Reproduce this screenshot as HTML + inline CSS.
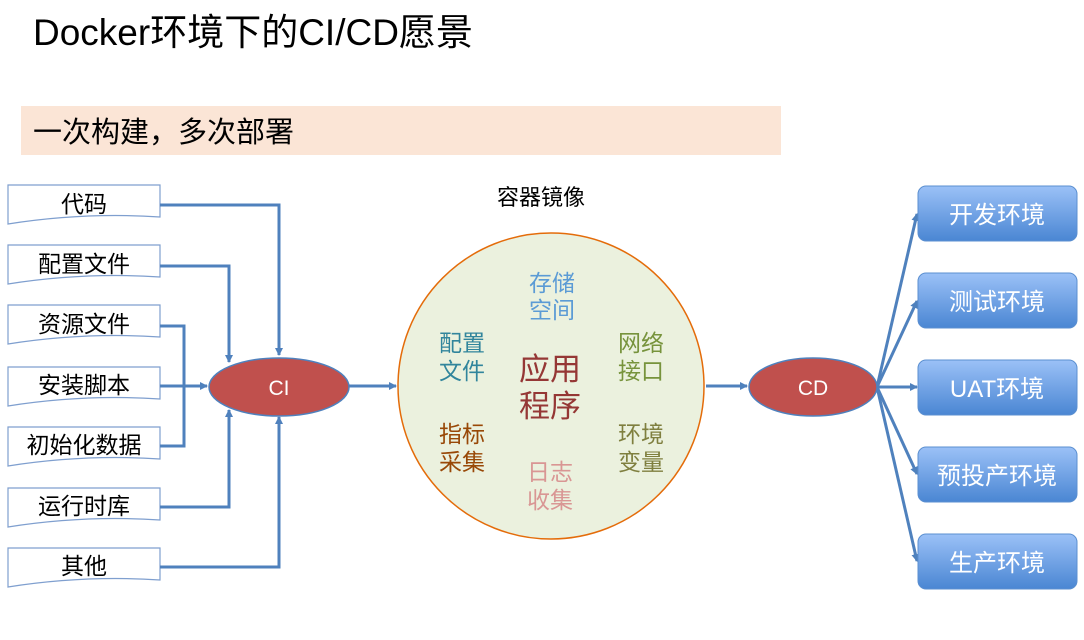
<!DOCTYPE html>
<html><head><meta charset="utf-8"><style>
body{margin:0;background:#fff;}
svg{display:block;font-family:"Liberation Sans","Noto Sans CJK SC",sans-serif;}
</style></head><body>
<svg width="1084" height="640" viewBox="0 0 1084 640" xmlns="http://www.w3.org/2000/svg">
<defs>
<marker id="ar" markerWidth="8" markerHeight="8" refX="7" refY="4" orient="auto" markerUnits="userSpaceOnUse">
<path d="M0,0 L8,4 L0,8 Z" fill="#4f81bd"/></marker>
<linearGradient id="bg" x1="0" y1="0" x2="0" y2="1"><stop offset="0" stop-color="#9bc1f7"/><stop offset="1" stop-color="#4a86d3"/></linearGradient>
</defs>
<text x="33" y="45" font-size="37" fill="#000">Docker环境下的CI/CD愿景</text>
<rect x="21" y="106" width="760" height="49" fill="#fbe5d6"/>
<text x="33" y="142" font-size="29" fill="#000">一次构建，多次部署</text>

<g fill="#fff" stroke="#7f9fcf" stroke-width="1.2">
<path d="M8,185 H160 V217 Q84,212 8,224 Z"/>
<path d="M8,245 H160 V277 Q84,272 8,284 Z"/>
<path d="M8,305 H160 V337 Q84,332 8,344 Z"/>
<path d="M8,367 H160 V399 Q84,394 8,406 Z"/>
<path d="M8,427 H160 V459 Q84,454 8,466 Z"/>
<path d="M8,488 H160 V520 Q84,515 8,527 Z"/>
<path d="M8,548 H160 V580 Q84,575 8,587 Z"/>
</g>
<g font-size="23" fill="#000" text-anchor="middle">
<text x="84" y="212">代码</text>
<text x="84" y="272">配置文件</text>
<text x="84" y="332">资源文件</text>
<text x="84" y="393">安装脚本</text>
<text x="84" y="453">初始化数据</text>
<text x="84" y="514">运行时库</text>
<text x="84" y="574">其他</text>
</g>
<g fill="none" stroke="#4f81bd" stroke-width="3">
<path d="M160,205 H279 V355" marker-end="url(#ar)"/>
<path d="M160,266 H229 V362" marker-end="url(#ar)"/>
<path d="M160,326 H184 V446 H160"/>
<path d="M160,386 H207" marker-end="url(#ar)"/>
<path d="M160,507 H229 V410" marker-end="url(#ar)"/>
<path d="M160,567 H279 V417" marker-end="url(#ar)"/>
<path d="M349,386 H396" marker-end="url(#ar)"/>
<path d="M706,386 H747" marker-end="url(#ar)"/>
<path d="M877,387 L917,214" marker-end="url(#ar)"/>
<path d="M877,387 L917,301" marker-end="url(#ar)"/>
<path d="M877,387 L917,387" marker-end="url(#ar)"/>
<path d="M877,387 L917,474" marker-end="url(#ar)"/>
<path d="M877,387 L917,561" marker-end="url(#ar)"/>
</g>
<ellipse cx="279" cy="387" rx="70" ry="29" fill="#c0504d" stroke="#4f81bd" stroke-width="1.5"/>
<text x="279" y="395" font-size="21" fill="#fff" text-anchor="middle">CI</text>
<ellipse cx="813" cy="387" rx="64" ry="29" fill="#c0504d" stroke="#4f81bd" stroke-width="1.5"/>
<text x="813" y="395" font-size="21" fill="#fff" text-anchor="middle">CD</text>

<text x="541" y="205" font-size="22" fill="#000" text-anchor="middle">容器镜像</text>
<circle cx="551" cy="386" r="153" fill="#ebf1de" stroke="#e46c0a" stroke-width="1.5"/>
<g font-size="23" text-anchor="middle">
<text x="552" y="291" fill="#5b9bd5">存储</text><text x="552" y="318" fill="#5b9bd5">空间</text>
<text x="462" y="351" fill="#31859c">配置</text><text x="462" y="379" fill="#31859c">文件</text>
<text x="641" y="351" fill="#77933c">网络</text><text x="641" y="379" fill="#77933c">接口</text>
<text x="462" y="442" fill="#984807">指标</text><text x="462" y="470" fill="#984807">采集</text>
<text x="641" y="442" fill="#7f7f3f">环境</text><text x="641" y="470" fill="#7f7f3f">变量</text>
<text x="550" y="480" fill="#d99694">日志</text><text x="550" y="508" fill="#d99694">收集</text>
<text x="550" y="380" font-size="31" fill="#953735">应用</text><text x="550" y="417" font-size="31" fill="#953735">程序</text>
</g>

<g fill="url(#bg)" stroke="#5b8fd0" stroke-width="1">
<rect x="918" y="186" width="159" height="55" rx="8"/>
<rect x="918" y="273" width="159" height="55" rx="8"/>
<rect x="918" y="360" width="159" height="55" rx="8"/>
<rect x="918" y="447" width="159" height="55" rx="8"/>
<rect x="918" y="534" width="159" height="55" rx="8"/>
</g>
<g font-size="24" fill="#fff" text-anchor="middle">
<text x="997" y="223">开发环境</text>
<text x="997" y="310">测试环境</text>
<text x="997" y="397">UAT环境</text>
<text x="997" y="484">预投产环境</text>
<text x="997" y="571">生产环境</text>
</g>
</svg>
</body></html>
